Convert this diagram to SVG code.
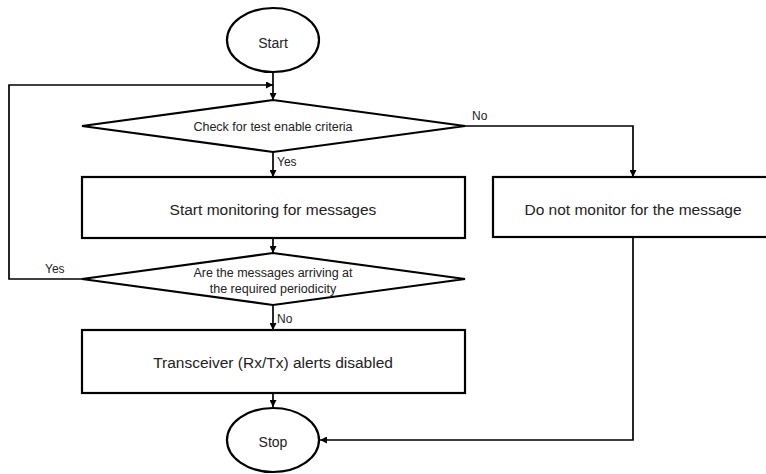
<svg xmlns="http://www.w3.org/2000/svg" width="766" height="474" viewBox="0 0 766 474">
  <style>
    .shape { fill: #fff; stroke: #000; stroke-width: 2.2; }
    .edge { fill: none; stroke: #000; stroke-width: 1.7; }
    .t { font-family: "Liberation Sans", Arial, sans-serif; fill: #222; text-anchor: middle; dominant-baseline: central; }
    .big { font-size: 15.5px; }
    .mid { font-size: 12.5px; }
    .lbl { font-family: "Liberation Sans", Arial, sans-serif; font-size: 12px; fill: #222; dominant-baseline: central; }
  </style>
  <defs>
    <marker id="arrow" viewBox="0 0 10 10" refX="10" refY="5" markerWidth="7" markerHeight="7" markerUnits="userSpaceOnUse" orient="auto">
      <path d="M0,0 L10,5 L0,10 z" fill="#000"/>
    </marker>
  </defs>
  <rect width="766" height="474" fill="#fff"/>

  <g id="connectors">
    <path class="edge" d="M273,72 V100" marker-end="url(#arrow)"/>
    <path class="edge" d="M82,279 H9 V85 H273" marker-end="url(#arrow)"/>
    <path class="edge" d="M273,152 V177" marker-end="url(#arrow)"/>
    <path class="edge" d="M465,126 H633 V177" marker-end="url(#arrow)"/>
    <path class="edge" d="M273,238 V253" marker-end="url(#arrow)"/>
    <path class="edge" d="M273,305 V330" marker-end="url(#arrow)"/>
    <path class="edge" d="M273,393 V407" marker-end="url(#arrow)"/>
    <path class="edge" d="M633,237 V440 H320" marker-end="url(#arrow)"/>
    <text class="lbl" x="277" y="162">Yes</text>
    <text class="lbl" x="472" y="116">No</text>
    <text class="lbl" x="45" y="269">Yes</text>
    <text class="lbl" x="277" y="319">No</text>
  </g>

  <g id="start">
    <ellipse class="shape" cx="273" cy="40" rx="46" ry="32"/>
    <text class="t" x="273" y="43" font-size="14">Start</text>
  </g>

  <g id="check-criteria">
    <polygon class="shape" points="82,126 273,100 465,126 273,152"/>
    <text class="t mid" x="273" y="127">Check for test enable criteria</text>
  </g>

  <g id="start-monitoring">
    <rect class="shape" x="82" y="177" width="383" height="61"/>
    <text class="t big" x="273" y="209">Start monitoring for messages</text>
  </g>

  <g id="do-not-monitor">
    <rect class="shape" x="493" y="177" width="290" height="60"/>
    <text class="t big" x="633" y="209">Do not monitor for the message</text>
  </g>

  <g id="periodicity">
    <polygon class="shape" points="82,279 273,253 465,279 273,305"/>
    <text class="t mid" x="273" y="273">Are the messages arriving at</text>
    <text class="t mid" x="273" y="289">the required periodicity</text>
  </g>

  <g id="alerts-disabled">
    <rect class="shape" x="82" y="330" width="383" height="63"/>
    <text class="t big" x="273" y="362">Transceiver (Rx/Tx) alerts disabled</text>
  </g>

  <g id="stop">
    <ellipse class="shape" cx="273" cy="440" rx="46" ry="32"/>
    <text class="t" x="273" y="442" font-size="14">Stop</text>
  </g>
</svg>
